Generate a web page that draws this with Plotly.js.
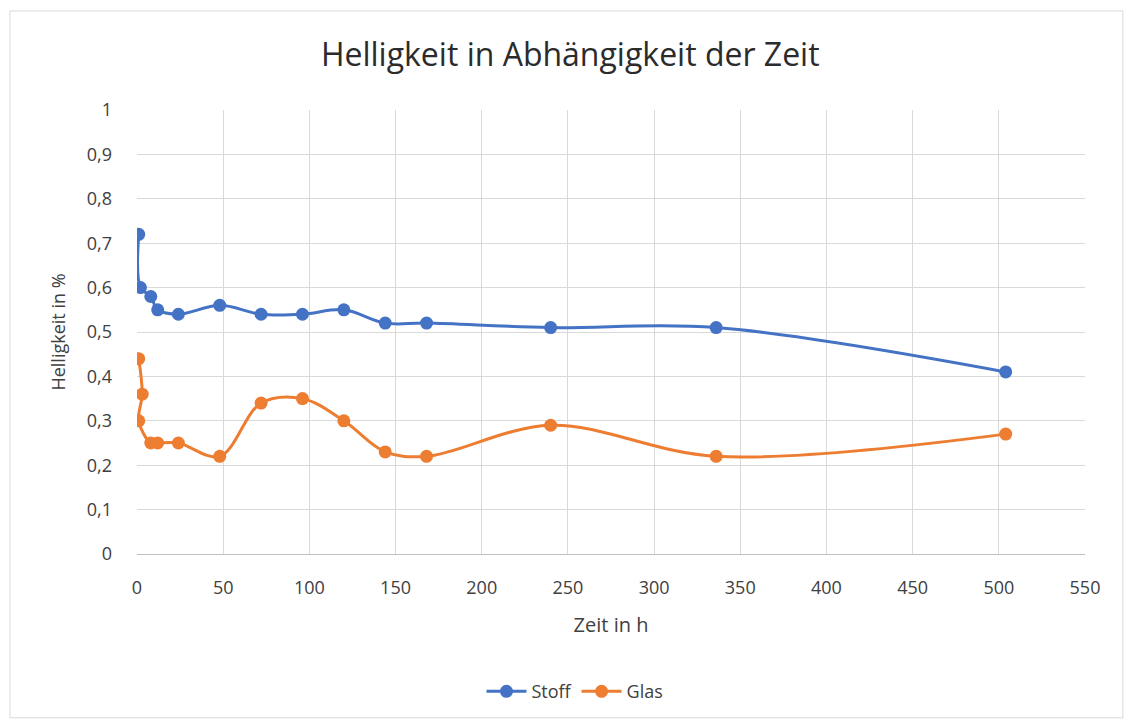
<!DOCTYPE html>
<html>
<head>
<meta charset="utf-8">
<script src="https://cdn.plot.ly/plotly-3.0.1.min.js"></script>
<style>html,body{margin:0;padding:0;background:#fff;}#chart{width:1133px;height:726px;}</style>
</head>
<body>
<div id="chart"></div>
<script>
const stoffX = [1, 2, 8, 12, 24, 48, 72, 96, 120, 144, 168, 240, 336, 504];
const stoffY = [0.72, 0.60, 0.58, 0.55, 0.54, 0.56, 0.54, 0.54, 0.55, 0.52, 0.52, 0.51, 0.51, 0.41];
const glasX = [1, 3, 1, 8, 12, 24, 48, 72, 96, 120, 144, 168, 240, 336, 504];
const glasY = [0.44, 0.36, 0.30, 0.25, 0.25, 0.25, 0.22, 0.34, 0.35, 0.30, 0.23, 0.22, 0.29, 0.22, 0.27];
const xTicks = [0, 50, 100, 150, 200, 250, 300, 350, 400, 450, 500, 550];
const yTicks = [0, 0.1, 0.2, 0.3, 0.4, 0.5, 0.6, 0.7, 0.8, 0.9, 1];

const FONT = '"Open Sans", "Noto Sans", sans-serif';
const TXT = '#404040';
const traces = [
  {x: stoffX, y: stoffY, name: 'Stoff', type: 'scatter', mode: 'lines+markers',
   line: {color: '#4472C4', width: 3, shape: 'spline', smoothing: 1},
   marker: {color: '#4472C4', size: 13}},
  {x: glasX, y: glasY, name: 'Glas', type: 'scatter', mode: 'lines+markers',
   line: {color: '#ED7D31', width: 3, shape: 'spline', smoothing: 1},
   marker: {color: '#ED7D31', size: 13}}
];
const layout = {
  width: 1133, height: 726,
  margin: {l: 137, r: 48, t: 110, b: 172},
  paper_bgcolor: '#fff', plot_bgcolor: '#fff',
  separators: ',.',
  font: {family: FONT, color: TXT, size: 18},
  title: {text: 'Helligkeit in Abhängigkeit der Zeit', font: {family: FONT, size: 32, color: '#2b2b2b'},
          x: 0.457, xref: 'paper', xanchor: 'center', y: 0.924, yref: 'container', yanchor: 'middle'},
  xaxis: {range: [0, 550], tickvals: xTicks, ticktext: xTicks.map(String),
          showgrid: true, gridcolor: '#d9d9d9', gridwidth: 1, zeroline: false,
          showline: true, linecolor: '#bfbfbf', linewidth: 1, ticks: '', ticklabelstandoff: 17,
          tickfont: {size: 18, color: TXT},
          title: {text: 'Zeit in h', font: {size: 20, color: TXT}, standoff: 20}},
  yaxis: {range: [0, 1], tickvals: yTicks, showgrid: true, gridcolor: '#d9d9d9', gridwidth: 1,
          zeroline: false, showline: false, ticks: '', ticklabelstandoff: 24,
          tickfont: {size: 18, color: TXT},
          title: {text: 'Helligkeit in %', font: {size: 18, color: TXT}, standoff: 16}},
  showlegend: true,
  legend: {orientation: 'h', x: 0.462, xanchor: 'center', y: -0.31, yanchor: 'middle',
           font: {size: 18, color: TXT}, itemwidth: 40},
  shapes: [{type: 'rect', xref: 'paper', yref: 'paper', x0: -0.134, x1: 1.040, y0: -0.369, y1: 1.223,
            line: {color: '#d9d9d9', width: 1}, fillcolor: 'rgba(0,0,0,0)', layer: 'below'}]
};
Plotly.newPlot('chart', traces, layout, {displayModeBar: false, staticPlot: true});
</script>
</body>
</html>
